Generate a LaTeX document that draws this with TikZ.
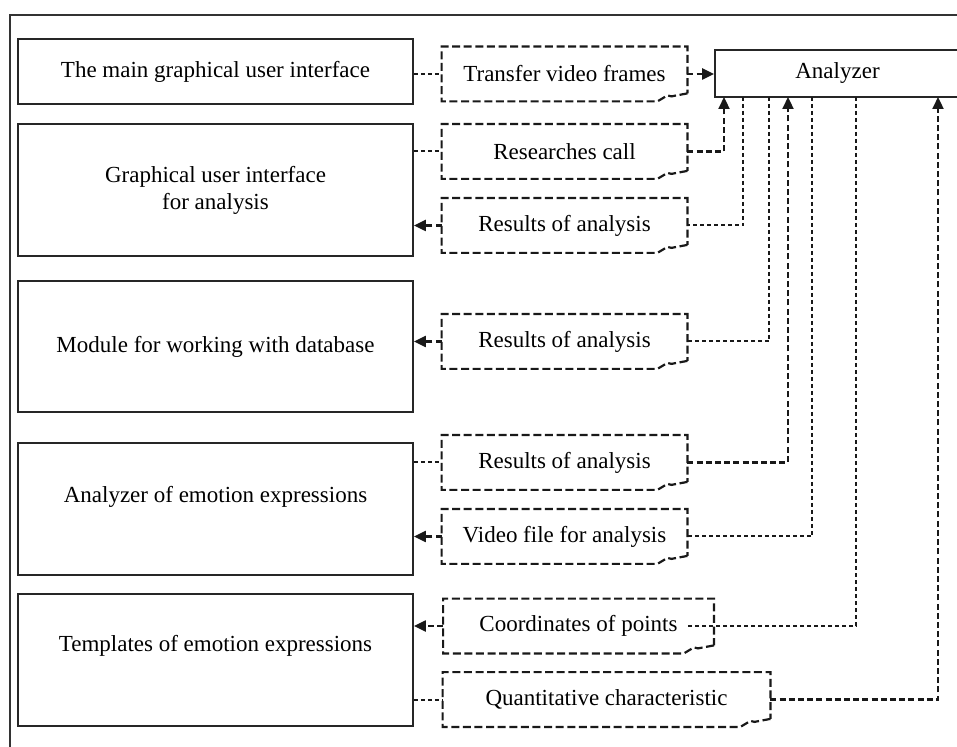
\documentclass[tikz,border=0pt]{standalone}
\usepackage{fontspec}
\setmainfont{Liberation Serif}
\usetikzlibrary{arrows.meta, positioning}

\begin{document}
\begin{tikzpicture}[x=0.5pt, y=-0.5pt,
        font=\fontsize{11.5}{13.5}\selectfont,
        mainbox/.style={draw=black!85, line width=0.9pt, minimum width=197.5pt, align=center, inner sep=0pt},
        notebox/.style={minimum width=122.5pt, minimum height=27pt, inner sep=0pt},
        notedash/.style={draw=black!90, line width=1.1pt, dash pattern=on 4pt off 1.8pt},
        dashlink/.style={draw=black!90, line width=1pt, dash pattern=on 2pt off 1.5pt},
        dasharrow/.style={dashlink, line width=1.1pt, dash pattern=on 3pt off 1.6pt, -{Triangle[length=6pt, width=5.5pt]}}]
    \clip (0,0) rectangle (957,747);

    % Рамка
    \draw[draw=black!80, line width=1pt] (10,760) -- (10,15) -- (970,15);

    % Блоки
    \node[mainbox, minimum height=32.5pt] (gui) at (215.5,71.5) {The main graphical user interface};
    \node[mainbox, minimum height=66pt] (agui) at (215.5,190) {Graphical user interface\\for analysis};
    \node[mainbox, minimum height=65.5pt] (db) at (215.5,346.5) {Module for working with database};
    \node[mainbox, minimum height=66pt, label={[yshift=6pt]center:Analyzer of emotion expressions}] (emo) at (215.5,509) {};
    \node[mainbox, minimum height=66pt, label={[yshift=7pt]center:Templates of emotion expressions}] (tmpl) at (215.5,660) {};
    \node[mainbox, minimum width=122.5pt, minimum height=23.5pt] (anlz) at (837.5,73.5) {Analyzer};

    % Заметки
    \node[notebox] (frames) at (564.5,74) {Transfer video frames};
    \node[notebox] (call) at (564.5,151.5) {Researches call};
    \node[notebox] (res1) at (564.5,225.5) {Results of analysis};
    \node[notebox] (res2) at (564.5,341.5) {Results of analysis};
    \node[notebox] (res3) at (564.5,462.5) {Results of analysis};
    \node[notebox] (video) at (564.5,536.5) {Video file for analysis};
    \node[notebox, minimum width=135pt] (points) at (578.5,626) {Coordinates of points};
    \node[notebox, minimum width=163.5pt] (quant) at (606.5,699.5) {Quantitative characteristic};
    \foreach \n in {frames, call, res1, res2, res3, video, points, quant}
        \draw[notedash] (\n.south east) ++(0,-8) -- ++(-16,3) -- ++(-4,-1) -- ++(-10,6)
            -- (\n.south west) -- (\n.north west) -- (\n.north east) -- cycle;

    % Выходы анализатора
    \coordinate (a1) at (724,97);
    \coordinate (a2) at (743,97);
    \coordinate (a3) at (769,97);
    \coordinate (a4) at (788,97);
    \coordinate (a5) at (812,97);
    \coordinate (a6) at (856,97);
    \coordinate (a7) at (938,97);

    % Связи
    \draw[dashlink] (gui.east |- frames.west) -- (frames.west);
    \draw[dasharrow] (frames.east) -- (frames.east -| anlz.west);
    \draw[dashlink] (agui.east |- call.west) -- (call.west);
    \draw[dasharrow] (call.east) -| (a1);
    \draw[dashlink] (a2) |- (res1.east);
    \draw[dasharrow] (res1.west) -- (res1.west -| agui.east);
    \draw[dashlink] (a3) |- (res2.east);
    \draw[dasharrow] (res2.west) -- (res2.west -| db.east);
    \draw[dashlink] (emo.east |- res3.west) -- (res3.west);
    \draw[dasharrow] (res3.east) -| (a4);
    \draw[dashlink] (a5) |- (video.east);
    \draw[dasharrow] (video.west) -- (video.west -| emo.east);
    \draw[dashlink] (a6) |- ([xshift=-13pt]points.east);
    \draw[dasharrow] (points.west) -- (points.west -| tmpl.east);
    \draw[dashlink] (tmpl.east |- quant.west) -- (quant.west);
    \draw[dasharrow] (quant.east) -| (a7);
\end{tikzpicture}
\end{document}
